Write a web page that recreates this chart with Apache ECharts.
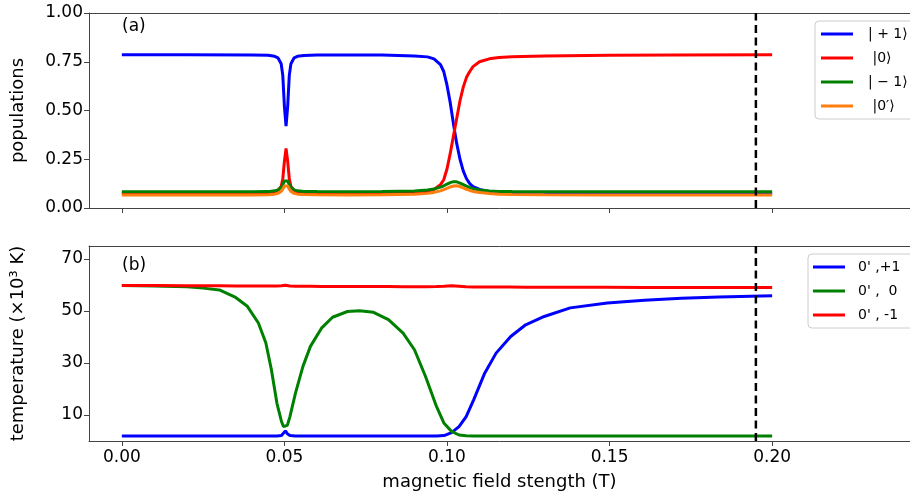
<!DOCTYPE html>
<html>
<head>
<meta charset="utf-8">
<script src="https://cdn.jsdelivr.net/npm/echarts@6/dist/echarts.min.js"></script>
<style>html,body{margin:0;padding:0;background:#fff;}#c{width:910px;height:496px;}</style>
</head>
<body>
<div id="c"></div>
<script>
// ---------- Data ----------
const popX = [0, 0.02, 0.04, 0.045, 0.047, 0.048, 0.049, 0.0495, 0.05, 0.0505, 0.051, 0.0515, 0.052, 0.053, 0.054, 0.056, 0.06, 0.07, 0.08, 0.09, 0.094, 0.096, 0.098, 0.099, 0.1, 0.101, 0.102, 0.103, 0.104, 0.105, 0.106, 0.107, 0.108, 0.11, 0.113, 0.116, 0.12, 0.13, 0.15, 0.17, 0.2];
const popPlus1 = [0.786, 0.786, 0.785, 0.783, 0.778, 0.77, 0.74, 0.68, 0.52, 0.42, 0.52, 0.68, 0.74, 0.77, 0.778, 0.782, 0.784, 0.785, 0.784, 0.78, 0.775, 0.765, 0.735, 0.70, 0.63, 0.54, 0.43, 0.33, 0.25, 0.19, 0.15, 0.125, 0.11, 0.095, 0.085, 0.08, 0.078, 0.076, 0.075, 0.075, 0.075];
const popZero = [0.075, 0.075, 0.076, 0.078, 0.083, 0.09, 0.11, 0.15, 0.24, 0.305, 0.24, 0.15, 0.11, 0.09, 0.083, 0.078, 0.076, 0.075, 0.076, 0.08, 0.085, 0.095, 0.12, 0.145, 0.2, 0.28, 0.37, 0.46, 0.55, 0.62, 0.67, 0.70, 0.725, 0.75, 0.765, 0.772, 0.776, 0.78, 0.783, 0.785, 0.786];
const popMinus1 = [0.083, 0.083, 0.083, 0.084, 0.088, 0.093, 0.105, 0.12, 0.138, 0.145, 0.138, 0.12, 0.105, 0.093, 0.088, 0.085, 0.084, 0.083, 0.084, 0.087, 0.092, 0.097, 0.107, 0.114, 0.122, 0.13, 0.135, 0.134, 0.128, 0.12, 0.112, 0.105, 0.099, 0.092, 0.087, 0.085, 0.084, 0.083, 0.083, 0.083, 0.083];
const popZeroPrime = [0.067, 0.067, 0.067, 0.068, 0.071, 0.075, 0.085, 0.097, 0.113, 0.12, 0.113, 0.097, 0.085, 0.075, 0.071, 0.069, 0.068, 0.067, 0.068, 0.071, 0.075, 0.08, 0.088, 0.094, 0.101, 0.108, 0.113, 0.114, 0.11, 0.103, 0.096, 0.09, 0.085, 0.079, 0.074, 0.071, 0.069, 0.068, 0.067, 0.067, 0.067];

const tempX = [0, 0.01, 0.02, 0.025, 0.03, 0.035, 0.0386, 0.042, 0.0443, 0.046, 0.0477, 0.0491, 0.0497, 0.0503, 0.0509, 0.0517, 0.0534, 0.0557, 0.058, 0.0614, 0.0648, 0.0694, 0.0731, 0.0774, 0.082, 0.0865, 0.09, 0.0934, 0.0968, 0.0991, 0.1014, 0.1037, 0.1059, 0.1082, 0.1116, 0.1151, 0.1196, 0.1242, 0.1299, 0.1379, 0.1493, 0.1607, 0.1721, 0.1836, 0.2];
const tempPlus1 = [1.9, 1.9, 1.9, 1.9, 1.9, 1.9, 1.9, 1.9, 1.9, 1.9, 1.9, 2.1, 2.8, 3.9, 2.8, 2.1, 1.9, 1.9, 1.9, 1.9, 1.9, 1.9, 1.9, 1.9, 1.9, 1.9, 1.9, 1.9, 1.95, 2.1, 3.2, 5.5, 9.4, 15.8, 26.1, 33.8, 40.2, 44.7, 47.9, 51.2, 53.1, 54.1, 54.9, 55.4, 55.9];
const tempZero = [59.8, 59.6, 59.3, 58.8, 58.1, 55.2, 51.8, 45.4, 37.7, 27.4, 14.5, 7.5, 5.6, 4.9, 6.0, 9.4, 18.4, 28.7, 36.4, 43.4, 47.6, 49.8, 50.1, 49.5, 46.7, 41.5, 35.1, 24.8, 13.2, 6.8, 3.7, 2.3, 2.0, 1.9, 1.9, 1.9, 1.9, 1.9, 1.9, 1.9, 1.9, 1.9, 1.9, 1.9, 1.9];
const tempMinus1 = [59.8, 59.8, 59.7, 59.7, 59.7, 59.6, 59.6, 59.6, 59.6, 59.6, 59.6, 59.7, 59.8, 59.9, 59.8, 59.6, 59.5, 59.5, 59.5, 59.4, 59.4, 59.4, 59.4, 59.4, 59.4, 59.3, 59.3, 59.3, 59.4, 59.5, 59.7, 59.5, 59.3, 59.2, 59.2, 59.2, 59.2, 59.1, 59.1, 59.1, 59.1, 59.0, 59.0, 59.0, 59.0];

const xTicks = [0, 0.05, 0.1, 0.15, 0.2];
const tempTicks = [10, 30, 50, 70];
const dashedX = 0.195;

const popNames = ['| + 1⟩', ' |0⟩', '| − 1⟩', ' |0′⟩'];
const tempNames = ["0' ,+1", "0' ,  0", "0' , -1"];
const panelLabels = ['(a)', '(b)'];
const xName = 'magnetic field stength (T)';
const yNames = ['populations', 'temperature (×10³ K)'];

// ---------- Chart ----------
const FONT = 'DejaVu Sans';
const SPINE = '#444';
const zip = (xs, ys) => xs.map((x, i) => [x, ys[i]]);
const X_MIN = -0.0101, X_MAX = 0.2424;

function xAxisCfg(gi, showLabels) {
  return {
    type: 'value', gridIndex: gi, min: X_MIN, max: X_MAX, position: 'bottom',
    axisLine: { show: true, onZero: false, lineStyle: { color: SPINE, width: 1 } },
    axisTick: { show: true, length: 5, customValues: xTicks, lineStyle: { color: SPINE, width: 1 } },
    axisLabel: { show: showLabels, customValues: xTicks, formatter: v => v.toFixed(2), fontFamily: FONT, fontSize: 17, color: '#000', margin: 8 },
    splitLine: { show: false },
    name: showLabels ? xName : '', nameLocation: 'middle', nameGap: 32,
    nameTextStyle: { fontFamily: FONT, fontSize: 18, color: '#000' }
  };
}
function topSpine(gi) {
  return {
    type: 'value', gridIndex: gi, min: X_MIN, max: X_MAX, position: 'top',
    axisLine: { show: true, onZero: false, lineStyle: { color: SPINE, width: 1 } },
    axisTick: { show: false }, axisLabel: { show: false }, splitLine: { show: false }
  };
}

const lineS = (name, data, color, xi, yi) => ({
  type: 'line', name, data, xAxisIndex: xi, yAxisIndex: yi,
  showSymbol: false, symbol: 'none', smooth: false,
  lineStyle: { color, width: 3 }, itemStyle: { color }, z: 3
});

const dashedS = (xi, yi, yLo, yHi) => ({
  type: 'line', name: 'limit', data: [[dashedX, yLo], [dashedX, yHi]],
  xAxisIndex: xi, yAxisIndex: yi, showSymbol: false, symbol: 'none', silent: true,
  lineStyle: { color: '#000', type: [8, 4.5], width: 2.5 }, z: 5
});

const chart = echarts.init(document.getElementById('c'), null, { renderer: 'canvas' });
chart.setOption({
  animation: false,
  backgroundColor: '#fff',
  textStyle: { fontFamily: FONT },
  grid: [
    { left: 89, top: 13, right: 0, height: 195, containLabel: false },
    { left: 89, top: 246, right: 0, height: 195, containLabel: false }
  ],
  xAxis: [xAxisCfg(0, false), xAxisCfg(1, true), topSpine(0), topSpine(1)],
  yAxis: [
    {
      type: 'value', gridIndex: 0, min: 0, max: 1, interval: 0.25,
      axisLine: { show: true, onZero: false, lineStyle: { color: SPINE, width: 1 } },
      axisTick: { show: true, length: 5, lineStyle: { color: SPINE } },
      axisLabel: { formatter: v => v.toFixed(2), fontFamily: FONT, fontSize: 17, color: '#000', margin: 6 },
      splitLine: { show: false },
      name: yNames[0], nameLocation: 'middle', nameGap: 62, nameRotate: 90,
      nameTextStyle: { fontFamily: FONT, fontSize: 18, color: '#000' }
    },
    {
      type: 'value', gridIndex: 1, min: 0, max: 75,
      axisLine: { show: true, onZero: false, lineStyle: { color: SPINE, width: 1 } },
      axisTick: { show: true, length: 5, customValues: tempTicks, lineStyle: { color: SPINE } },
      axisLabel: { customValues: tempTicks, fontFamily: FONT, fontSize: 17, color: '#000', margin: 6 },
      splitLine: { show: false },
      name: yNames[1], nameLocation: 'middle', nameGap: 62, nameRotate: 90,
      nameTextStyle: { fontFamily: FONT, fontSize: 18, color: '#000' }
    }
  ],
  legend: [
    {
      data: popNames, orient: 'vertical', left: 815, top: 21,
      icon: 'rect', itemWidth: 32, itemHeight: 3, itemGap: 10,
      padding: [6, 40, 6, 6],
      backgroundColor: '#fff', borderColor: '#ccc', borderWidth: 1, borderRadius: 4,
      textStyle: { fontFamily: FONT, fontSize: 14, color: '#000', padding: [0, 0, 0, 10] },
      selectedMode: false
    },
    {
      data: tempNames, orient: 'vertical', left: 808, top: 254,
      icon: 'rect', itemWidth: 32, itemHeight: 3, itemGap: 10,
      padding: [6, 20, 6, 5],
      backgroundColor: '#fff', borderColor: '#ccc', borderWidth: 1, borderRadius: 4,
      textStyle: { fontFamily: FONT, fontSize: 14, color: '#000', padding: [0, 0, 0, 8] },
      selectedMode: false
    }
  ],
  graphic: [
    { type: 'text', left: 122, top: 18, style: { text: panelLabels[0], fontFamily: FONT, fontSize: 17, fill: '#000' } },
    { type: 'text', left: 122, top: 257, style: { text: panelLabels[1], fontFamily: FONT, fontSize: 17, fill: '#000' } }
  ],
  series: [
    lineS(popNames[0], zip(popX, popPlus1), '#0000ff', 0, 0),
    lineS(popNames[1], zip(popX, popZero), '#ff0000', 0, 0),
    lineS(popNames[2], zip(popX, popMinus1), '#008000', 0, 0),
    lineS(popNames[3], zip(popX, popZeroPrime), '#ff7f0e', 0, 0),
    dashedS(0, 0, 0, 1),
    lineS(tempNames[0], zip(tempX, tempPlus1), '#0000ff', 1, 1),
    lineS(tempNames[1], zip(tempX, tempZero), '#008000', 1, 1),
    lineS(tempNames[2], zip(tempX, tempMinus1), '#ff0000', 1, 1),
    dashedS(1, 1, 0, 75)
  ]
});
</script>
</body>
</html>
